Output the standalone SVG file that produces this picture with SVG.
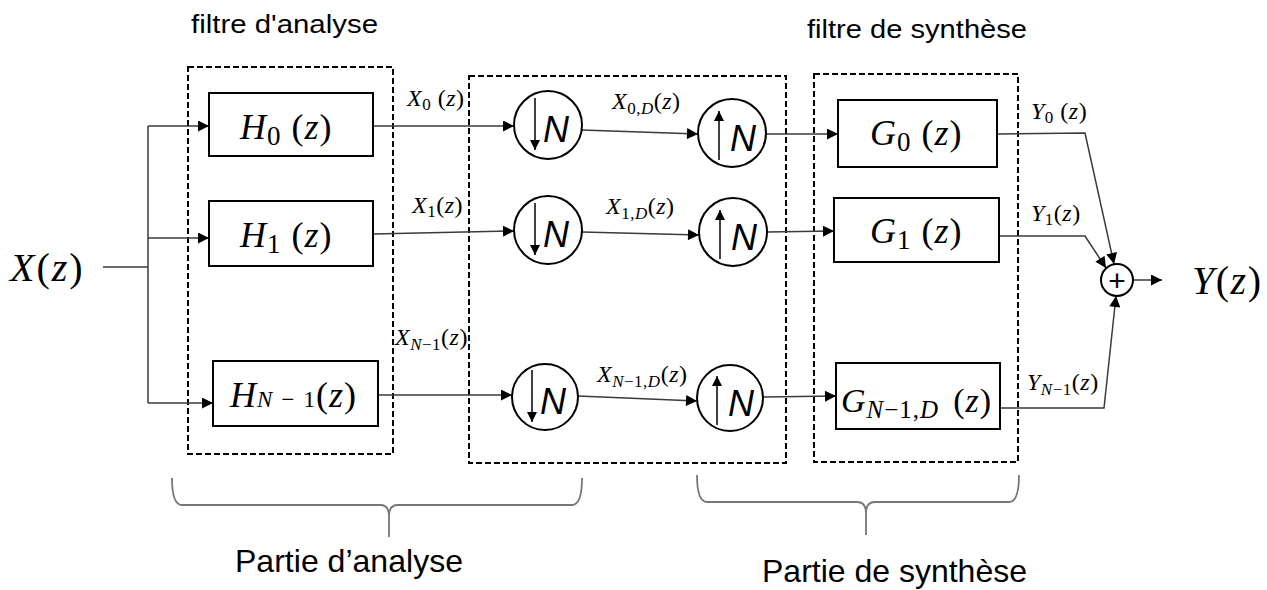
<svg xmlns="http://www.w3.org/2000/svg" width="1267" height="590" viewBox="0 0 1267 590">
<defs>
<marker id="arr" viewBox="0 0 10 10" refX="10" refY="5" markerWidth="12" markerHeight="11" markerUnits="userSpaceOnUse" orient="auto">
<path d="M0,0 L10,5 L0,10 z" fill="#000"/>
</marker>
<marker id="arrs" viewBox="0 0 10 10" refX="10" refY="5" markerWidth="12" markerHeight="10" markerUnits="userSpaceOnUse" orient="auto">
<path d="M0,0 L10,5 L0,10 z" fill="#000"/>
</marker>
</defs>
<style>
.dash{fill:none;stroke:#000;stroke-width:2;stroke-dasharray:6 3}
.box{fill:#fff;stroke:#000;stroke-width:2}
.circ{fill:#fff;stroke:#000;stroke-width:2}
.con{fill:none;stroke:#3a3a3a;stroke-width:1.5;marker-end:url(#arr)}
.line{fill:none;stroke:#3a3a3a;stroke-width:1.5}
.inarr{fill:none;stroke:#000;stroke-width:1.5;marker-end:url(#arrs)}
.brace{fill:none;stroke:#777;stroke-width:1.8}
.math{font-family:"Liberation Serif",serif;font-style:italic;fill:#000}
.big{font-size:36px;letter-spacing:1px}
.small{font-size:24px;letter-spacing:0.5px}
.up{font-style:normal}
.title{font-family:"Liberation Sans",sans-serif;fill:#000}
.n{font-family:"Liberation Sans",sans-serif;font-style:italic;font-size:36px;fill:#000}
</style>
<rect width="1267" height="590" fill="#fff"/>

<g id="frames">
<rect class="dash" x="188" y="67" width="205" height="387"/>
<rect class="dash" x="469" y="76" width="317" height="387"/>
<rect class="dash" x="814" y="74" width="204" height="388"/>
</g>

<g id="titles">
<text class="title" x="191" y="33" font-size="26" textLength="187" lengthAdjust="spacingAndGlyphs">filtre d'analyse</text>
<text class="title" x="807" y="38" font-size="26" textLength="220" lengthAdjust="spacingAndGlyphs">filtre de synthèse</text>
<text class="title" x="235" y="572" font-size="32" textLength="228" lengthAdjust="spacingAndGlyphs">Partie d’analyse</text>
<text class="title" x="762" y="582" font-size="32" textLength="265" lengthAdjust="spacingAndGlyphs">Partie de synthèse</text>
</g>

<g id="connectors">
<path class="line" d="M103,267 L148,267"/>
<path class="line" d="M148,126 L148,403"/>
<path class="con" d="M148,126 L209,126"/>
<path class="con" d="M148,238 L209,238"/>
<path class="con" d="M148,403 L213,403"/>
<path class="con" d="M373,126 L514,126"/>
<path class="con" d="M373,234 L514,231"/>
<path class="con" d="M378,395 L512,395"/>
<path class="con" d="M582,130 L698,134"/>
<path class="con" d="M582,232 L699,235"/>
<path class="con" d="M578,396 L697,401"/>
<path class="con" d="M766,134 L838,134"/>
<path class="con" d="M767,232 L834,231"/>
<path class="con" d="M763,397 L836,396"/>
<path class="con" d="M997,134 L1085,133 L1114,264"/>
<path class="con" d="M999,236 L1085,236 L1106,268"/>
<path class="con" d="M998,408 L1104,408 L1116,296"/>
<path class="con" d="M1133,280 L1162,280"/>
</g>

<g id="braces">
<path class="brace" d="M172,478 Q172,505 182,505 L380,505 Q389,505 389,516 L389,537 M389,516 Q389,505 398,505 L572,505 Q582,505 582,478"/>
<path class="brace" d="M697,475 Q697,502 707,502 L857,502 Q866,502 866,513 L866,535 M866,513 Q866,502 875,502 L1009,502 Q1019,502 1019,475"/>
</g>

<g id="input">
<text class="math" x="10" y="281" font-size="40" letter-spacing="2">X<tspan class="up">(</tspan>z<tspan class="up">)</tspan></text>
</g>

<g id="H0">
<rect class="box" x="209" y="93" width="164" height="63"/>
<text class="math big" x="240" y="139">H<tspan class="up" font-size="27" dy="6">0</tspan><tspan class="up" dy="-6"> (</tspan>z<tspan class="up">)</tspan></text>
</g>
<g id="H1">
<rect class="box" x="209" y="201" width="164" height="65"/>
<text class="math big" x="240" y="247">H<tspan class="up" font-size="27" dy="6">1</tspan><tspan class="up" dy="-6"> (</tspan>z<tspan class="up">)</tspan></text>
</g>
<g id="HN">
<rect class="box" x="213" y="361" width="165" height="65"/>
<text class="math big" x="230" y="407">H<tspan font-size="23">N − </tspan><tspan class="up" font-size="23">1</tspan><tspan class="up">(</tspan>z<tspan class="up">)</tspan></text>
</g>

<g id="D0">
<circle class="circ" cx="548" cy="125" r="34"/>
<path class="inarr" d="M535,98 L535,150"/>
<text class="n" x="543" y="142">N</text>
</g>
<g id="D1">
<circle class="circ" cx="548" cy="230" r="34"/>
<path class="inarr" d="M535,203 L535,255"/>
<text class="n" x="543" y="247">N</text>
</g>
<g id="DN">
<circle class="circ" cx="545" cy="397" r="33"/>
<path class="inarr" d="M532,370 L532,422"/>
<text class="n" x="540" y="414">N</text>
</g>

<g id="U0">
<circle class="circ" cx="732" cy="133" r="34"/>
<path class="inarr" d="M719,160 L719,111"/>
<text class="n" x="730" y="151">N</text>
</g>
<g id="U1">
<circle class="circ" cx="733" cy="232" r="34"/>
<path class="inarr" d="M720,259 L720,210"/>
<text class="n" x="731" y="250">N</text>
</g>
<g id="UN">
<circle class="circ" cx="730" cy="398" r="33"/>
<path class="inarr" d="M717,425 L717,376"/>
<text class="n" x="728" y="416">N</text>
</g>

<g id="G0">
<rect class="box" x="838" y="100" width="159" height="67"/>
<text class="math big" x="870" y="145">G<tspan class="up" font-size="27" dy="6">0</tspan><tspan class="up" dy="-6"> (</tspan>z<tspan class="up">)</tspan></text>
</g>
<g id="G1">
<rect class="box" x="834" y="198" width="165" height="64"/>
<text class="math big" x="870" y="243">G<tspan class="up" font-size="27" dy="6">1</tspan><tspan class="up" dy="-6"> (</tspan>z<tspan class="up">)</tspan></text>
</g>
<g id="GN">
<rect class="box" x="836" y="363" width="164" height="66"/>
<text class="math" x="841" y="412" font-size="34" letter-spacing="1">G<tspan font-size="25" dy="6">N</tspan><tspan class="up" font-size="25">−1,</tspan><tspan font-size="25">D</tspan><tspan class="up" dy="-6" dx="14">(</tspan>z<tspan class="up">)</tspan></text>
</g>

<g id="sum">
<circle class="circ" cx="1117" cy="280" r="16"/>
<text x="1117" y="291" font-family="Liberation Sans,sans-serif" font-size="30" text-anchor="middle">+</text>
</g>
<g id="output">
<text class="math" x="1192" y="294" font-size="40" letter-spacing="1.5">Y<tspan class="up">(</tspan>z<tspan class="up">)</tspan></text>
</g>

<g id="labels">
<text class="math small" x="407" y="106">X<tspan class="up" font-size="17" dy="4">0</tspan><tspan class="up" dy="-4"> (</tspan>z<tspan class="up">)</tspan></text>
<text class="math small" x="412" y="213">X<tspan class="up" font-size="17" dy="4">1</tspan><tspan class="up" dy="-4">(</tspan>z<tspan class="up">)</tspan></text>
<text class="math small" x="395" y="345">X<tspan font-size="17" dy="5">N</tspan><tspan class="up" font-size="17">−1</tspan><tspan class="up" dy="-5">(</tspan>z<tspan class="up">)</tspan></text>
<text class="math small" x="612" y="109">X<tspan class="up" font-size="17" dy="5">0,</tspan><tspan font-size="17">D</tspan><tspan class="up" dy="-5">(</tspan>z<tspan class="up">)</tspan></text>
<text class="math small" x="606" y="214">X<tspan class="up" font-size="17" dy="5">1,</tspan><tspan font-size="17">D</tspan><tspan class="up" dy="-5">(</tspan>z<tspan class="up">)</tspan></text>
<text class="math small" x="597" y="382">X<tspan font-size="17" dy="5">N</tspan><tspan class="up" font-size="17">−1,</tspan><tspan font-size="17">D</tspan><tspan class="up" dy="-5">(</tspan>z<tspan class="up">)</tspan></text>
<text class="math small" x="1031" y="119">Y<tspan class="up" font-size="17" dy="4">0</tspan><tspan class="up" dy="-4"> (</tspan>z<tspan class="up">)</tspan></text>
<text class="math small" x="1031" y="221">Y<tspan class="up" font-size="17" dy="4">1</tspan><tspan class="up" dy="-4">(</tspan>z<tspan class="up">)</tspan></text>
<text class="math small" x="1027" y="390">Y<tspan font-size="17" dy="5">N</tspan><tspan class="up" font-size="17">−1</tspan><tspan class="up" dy="-5">(</tspan>z<tspan class="up">)</tspan></text>
</g>
</svg>
